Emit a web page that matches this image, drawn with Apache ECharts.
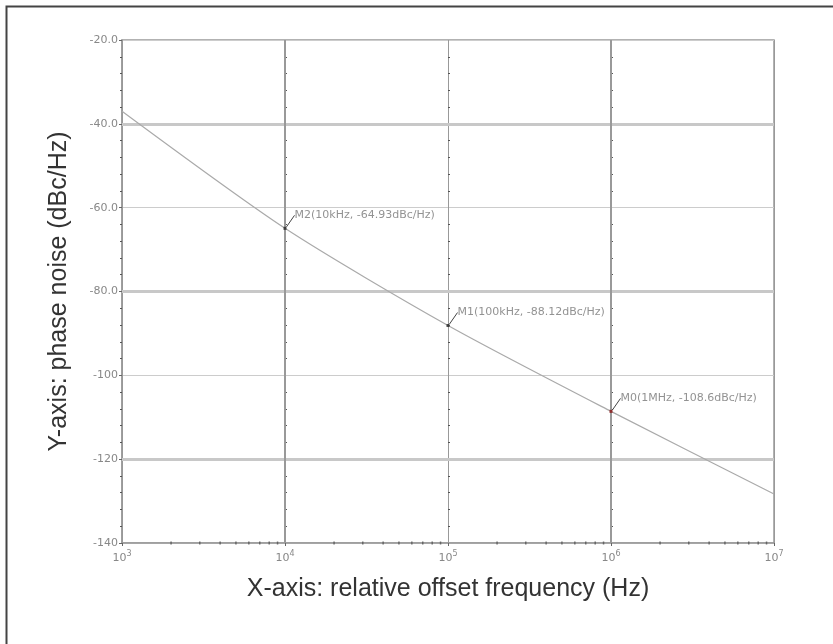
<!DOCTYPE html>
<html>
<head>
<meta charset="utf-8">
<script src="https://cdn.jsdelivr.net/npm/echarts@6/dist/echarts.min.js"></script>
<style>
html,body{margin:0;padding:0;background:#fff;}
#chart{width:833px;height:644px;}
</style>
</head>
<body>
<div id="chart"></div>
<script>
// ---- data ----
const freqs = [1e3, 1e4, 1e5, 1e6, 1e7];
const noise = [-37.0, -64.93, -88.12, -108.6, -128.3];
const markerNames = ['M2', 'M1', 'M0'];
const markerFreqs = [1e4, 1e5, 1e6];
const markerValues = [-64.93, -88.12, -108.6];
const markerLabels = ['M2(10kHz, -64.93dBc/Hz)', 'M1(100kHz, -88.12dBc/Hz)', 'M0(1MHz, -108.6dBc/Hz)'];
const markerColors = ['#222', '#222', '#8a1010'];
const yTicks = [-140, -120, -100, -80, -60, -40, -20];
const thickYLines = [-40, -80, -120];
const thickXLines = [1e4, 1e6];
const decadeStarts = [1e3, 1e4, 1e5, 1e6];
const minorMantissas = [2, 3, 4, 5, 6, 7, 8, 9];
const xMinorTicks = [];
decadeStarts.forEach(d => minorMantissas.forEach(m => xMinorTicks.push([m * d, -140])));

const chart = echarts.init(document.getElementById('chart'));

function yLabel(v) {
  return v > -100 ? v.toFixed(1) : String(v);
}
function xLabel(v) {
  const e = Math.round(Math.log10(v));
  return '{b|10}{s|' + e + '}';
}

const yBase = {
  type: 'value', min: -140, max: -20, interval: 20,
  axisLine: { show: false },
  axisLabel: { show: false },
  axisTick: { show: false },
  minorTick: { show: true, splitNumber: 5, length: 2, lineStyle: { color: '#555', width: 1 } },
  splitLine: { show: false }
};

const option = {
  animation: false,
  backgroundColor: '#fff',
  graphic: [{
    type: 'rect', left: 4, top: 4, z: 100,
    shape: { x: 0, y: 0, width: 900, height: 900 },
    style: { fill: 'none', stroke: '#444', lineWidth: 2 }
  }],
  grid: {
    left: 122, top: 40, right: 59, bottom: 101,
    show: true, borderColor: '#999', borderWidth: 1.5, backgroundColor: '#fff'
  },
  xAxis: {
    type: 'log', logBase: 10, min: 1e3, max: 1e7,
    name: 'X-axis: relative offset frequency (Hz)',
    nameLocation: 'middle', nameGap: 34,
    nameTextStyle: { fontFamily: 'Liberation Sans', fontSize: 25, color: '#333', verticalAlign: 'top' },
    axisLine: { show: true, lineStyle: { color: '#999', width: 1.5 } },
    axisTick: { show: true, length: 3, lineStyle: { color: '#666' } },
    axisLabel: {
      margin: 4, formatter: xLabel,
      rich: {
        b: { fontFamily: 'DejaVu Sans', fontSize: 11, color: '#888', padding: [6, 0, 0, 0] },
        s: { fontFamily: 'DejaVu Sans', fontSize: 8, color: '#888', padding: [0, 0, 4, 0] }
      }
    },
    splitLine: { show: true, lineStyle: { color: '#999', width: 1 } }
  },
  yAxis: [Object.assign({}, yBase, {
    name: 'Y-axis: phase noise (dBc/Hz)',
    nameLocation: 'middle', nameGap: 50,
    nameTextStyle: { fontFamily: 'Liberation Sans', fontSize: 25, color: '#333' },
    axisLine: { show: true, lineStyle: { color: '#999', width: 1.5 } },
    axisTick: { show: true, length: 3, lineStyle: { color: '#666' } },
    axisLabel: { show: true, margin: 4, formatter: yLabel, fontFamily: 'DejaVu Sans', fontSize: 11, color: '#888' },
    splitLine: { show: true, lineStyle: { color: '#ccc', width: 1 } }
  }),
  Object.assign({}, yBase, { offset: -163 }),
  Object.assign({}, yBase, { offset: -326 }),
  Object.assign({}, yBase, { offset: -489 })
  ],
  series: [
    {
      type: 'line',
      data: freqs.map((f, i) => [f, noise[i]]),
      showSymbol: false,
      smooth: 0.25,
      lineStyle: { color: '#aaa', width: 1.2 },
      z: 5,
      markLine: {
        silent: true, symbol: 'none', label: { show: false },
        data: thickYLines.map(v => ({ yAxis: v, lineStyle: { color: '#c8c8c8', width: 3, type: 'solid' } }))
          .concat(thickXLines.map(v => ({ xAxis: v, lineStyle: { color: '#999', width: 2, type: 'solid' } }))),
        z: 1
      }
    },
    {
      type: 'scatter',
      data: xMinorTicks,
      symbol: 'rect',
      symbolSize: [1.5, 3],
      itemStyle: { color: '#555' },
      silent: true,
      z: 6
    },
    {
      type: 'scatter',
      data: markerFreqs.map((f, i) => ({
        value: [f, markerValues[i]],
        name: markerNames[i],
        itemStyle: { color: markerColors[i] }
      })),
      symbol: 'rect',
      symbolSize: 3,
      z: 10,
      label: {
        show: true, position: 'right', distance: 2,
        formatter: p => markerLabels[p.dataIndex],
        fontFamily: 'DejaVu Sans', fontSize: 11, color: '#777'
      },
      labelLayout: { dx: 6, dy: -13 },
      labelLine: { show: true, length2: 0, lineStyle: { color: '#444', width: 1 } }
    }
  ]
};
chart.setOption(option);
</script>
</body>
</html>
